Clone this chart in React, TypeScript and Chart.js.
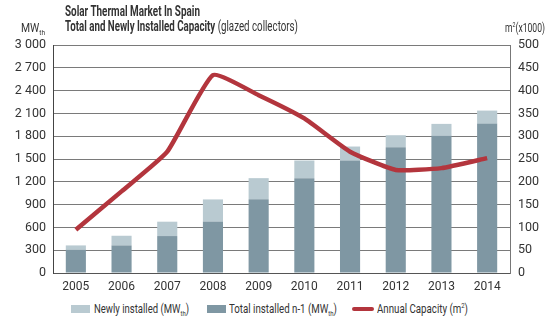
import React, { useEffect, useLayoutEffect, useRef } from "react";
import { Chart, registerables } from "chart.js";

Chart.register(...registerables);

const years = ["2005", "2006", "2007", "2008", "2009", "2010", "2011", "2012", "2013", "2014"];
const totalPrev = [307, 363, 486, 679, 972, 1248, 1480, 1656, 1805, 1967];
const newlyInstalled = [56, 127, 189, 289, 276, 232, 184, 157, 157, 170];
const annualCapacity = [95, 179, 266, 434, 390, 339, 266, 226, 230, 252];
const leftMax = 3000;
const leftStep = 300;
const rightMax = 500;
const rightStep = 50;

const FONT = "Roboto, 'Liberation Sans', sans-serif";
const TEXT = "#333333";
const DARK = "#7f97a3";
const LIGHT = "#b9cad1";
const RED = "#b3353d";

const fmt = (v: number) => {
  const s = String(v);
  return s.length > 3 ? s.slice(0, s.length - 3) + " " + s.slice(-3) : s;
};

function Fit(props: { left: number; top: number; width: number; size?: number; children: React.ReactNode }) {
  const r = useRef<HTMLSpanElement | null>(null);
  useLayoutEffect(() => {
    const el = r.current;
    if (!el) return;
    el.style.transform = "none";
    const w = el.getBoundingClientRect().width;
    if (w > 0) el.style.transform = `scaleX(${props.width / w})`;
  });
  return (
    <span
      ref={r}
      style={{
        position: "absolute",
        left: props.left,
        top: props.top,
        display: "inline-block",
        transformOrigin: "left top",
        fontFamily: FONT,
        fontSize: props.size ?? 12,
        color: TEXT,
        whiteSpace: "nowrap",
        lineHeight: "15px",
      }}
    >
      {props.children}
    </span>
  );
}

export default function App() {
  const ref = useRef<HTMLCanvasElement | null>(null);

  useEffect(() => {
    if (!ref.current) return;
    const grid = {
      color: "#7a7a7a",
      lineWidth: 1,
      borderDash: [1, 1],
      drawTicks: false,
    };
    const chart = new Chart(ref.current, {
      type: "bar",
      data: {
        labels: years,
        datasets: [
          {
            type: "line",
            label: "Annual Capacity (m²)",
            data: annualCapacity,
            yAxisID: "y1",
            borderColor: RED,
            backgroundColor: RED,
            borderWidth: 4.5,
            pointRadius: 0,
            tension: 0.15,
            borderCapStyle: "butt",
            borderJoinStyle: "round",
            order: 0,
          } as any,
          {
            label: "Total installed n-1",
            data: totalPrev,
            backgroundColor: DARK,
            yAxisID: "y",
            stack: "s",
            order: 1,
            barPercentage: 0.88,
            categoryPercentage: 0.5,
          },
          {
            label: "Newly installed",
            data: newlyInstalled,
            backgroundColor: LIGHT,
            yAxisID: "y",
            stack: "s",
            order: 1,
            barPercentage: 0.88,
            categoryPercentage: 0.5,
          },
        ],
      },
      options: {
        responsive: false,
        animation: false,
        layout: { padding: { top: 45, left: 0, right: 0, bottom: 0 } },
        plugins: {
          legend: { display: false },
          tooltip: { enabled: false },
          title: { display: false },
        },
        scales: {
          x: {
            stacked: true,
            grid: { display: false, drawTicks: false },
            border: { display: true, color: "#555555", width: 1 },
            ticks: { color: TEXT, font: { family: FONT, size: 12 }, padding: 7 },
            afterFit: (s: any) => {
              s.height = 27;
            },
          },
          y: {
            stacked: true,
            position: "left",
            min: 0,
            max: leftMax,
            grid: grid as any,
            border: { display: true, color: "#444444", width: 1 },
            ticks: {
              stepSize: leftStep,
              color: TEXT,
              font: { family: FONT, size: 12.5 },
              padding: 7,
              callback: (v: any) => fmt(Number(v)),
            },
            afterFit: (s: any) => {
              s.width = 53;
            },
          },
          y1: {
            position: "right",
            min: 0,
            max: rightMax,
            grid: { display: false, drawTicks: false },
            border: { display: true, color: "#777777", width: 1 },
            ticks: {
              stepSize: rightStep,
              color: TEXT,
              font: { family: FONT, size: 12.5 },
              padding: 8,
            },
            afterFit: (s: any) => {
              s.width = 43;
            },
          },
        },
      } as any,
    });
    return () => chart.destroy();
  }, []);

  const sub: React.CSSProperties = { fontSize: 8, verticalAlign: "-3px", lineHeight: 0 };
  const sup: React.CSSProperties = { fontSize: 8, verticalAlign: "5px", lineHeight: 0 };

  return (
    <div style={{ position: "fixed", left: 0, top: 0, width: 553, height: 330, background: "#fff", overflow: "hidden" }}>
      <canvas ref={ref} width={553} height={300} style={{ position: "absolute", left: 0, top: 0 }} />
      <Fit left={65} top={4} width={135} size={14}>
        <b>Solar Thermal Market In Spain</b>
      </Fit>
      <Fit left={65} top={19} width={233} size={14}>
        <b>Total and Newly Installed Capacity</b> (glazed collectors)
      </Fit>
      <Fit left={21} top={20} width={24} size={13}>
        MW<span style={sub}>th</span>
      </Fit>
      <Fit left={505} top={20} width={40} size={13}>
        m<span style={sup}>2</span>(x1000)
      </Fit>
      <div style={{ position: "absolute", left: 71, top: 305, width: 19, height: 8, background: LIGHT }} />
      <Fit left={94} top={301} width={95} size={13}>
        Newly installed (MW<span style={sub}>th</span>)
      </Fit>
      <div style={{ position: "absolute", left: 207, top: 305, width: 19, height: 8, background: DARK }} />
      <Fit left={229} top={301} width={108} size={13}>
        Total installed n-1 (MW<span style={sub}>th</span>)
      </Fit>
      <div style={{ position: "absolute", left: 352, top: 307, width: 22, height: 4, borderRadius: 2, background: RED }} />
      <Fit left={377} top={301} width={91} size={13}>
        Annual Capacity (m<span style={sup}>2</span>)
      </Fit>
    </div>
  );
}
